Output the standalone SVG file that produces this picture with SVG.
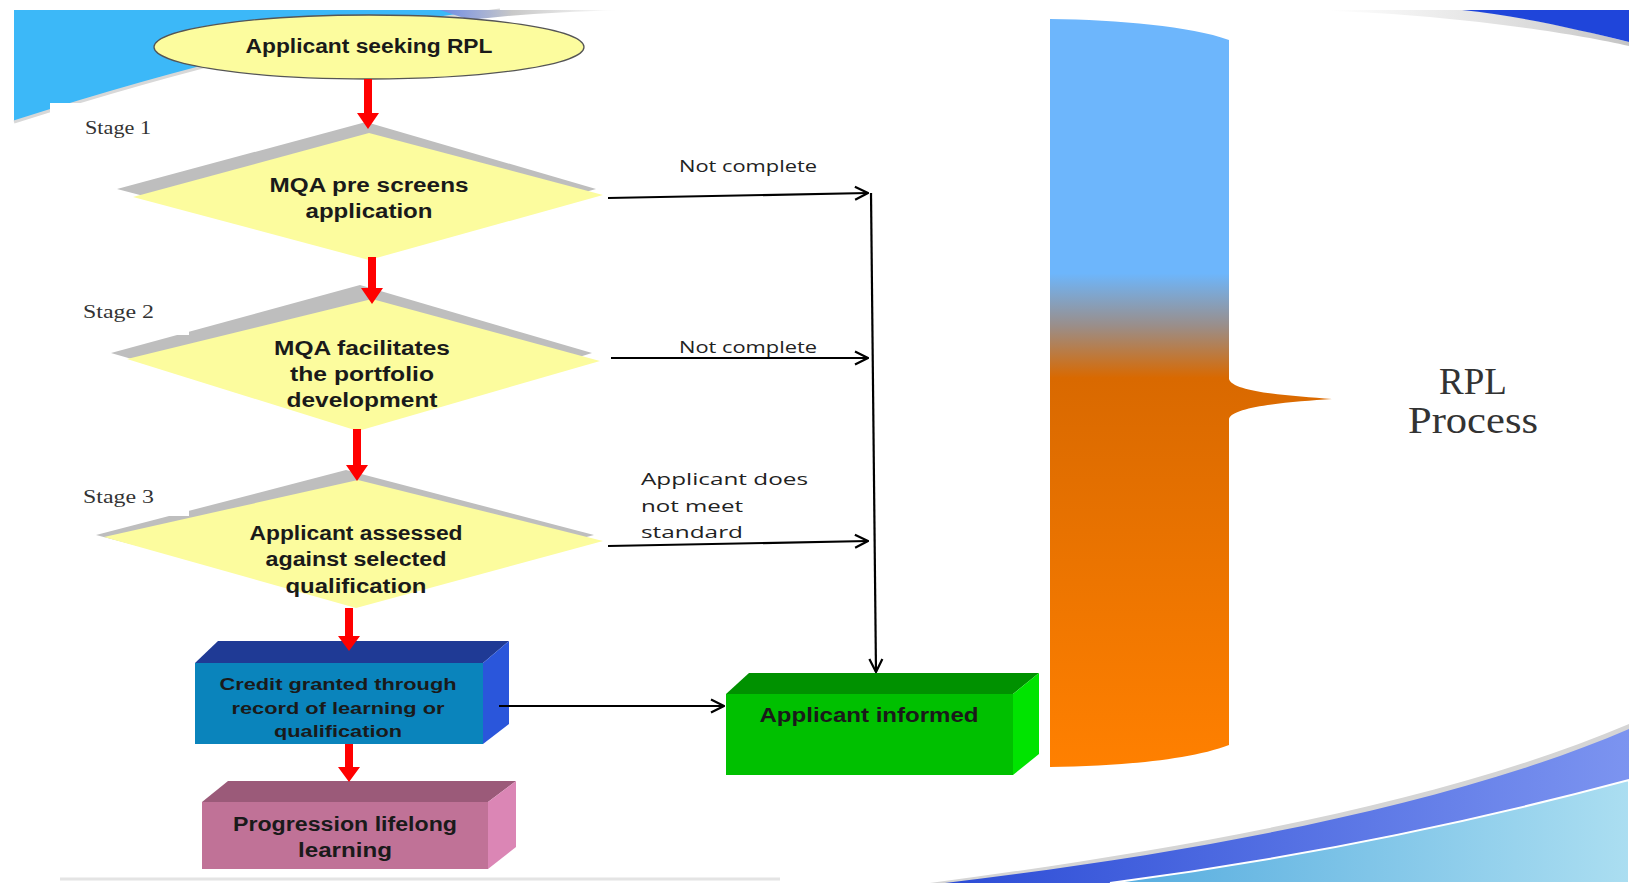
<svg xmlns="http://www.w3.org/2000/svg" width="1629" height="883" viewBox="0 0 1629 883">
<style>
.nt{font-family:"Liberation Sans",Arial,sans-serif;font-weight:bold;fill:#1a1a1a;text-anchor:middle}
.lb{font-family:"Open Sans","Liberation Sans",sans-serif;fill:#222;font-size:17px}
.st{font-family:"Liberation Serif","Times New Roman",serif;fill:#333;font-size:18px}
.rp{font-family:"Liberation Serif","Times New Roman",serif;fill:#333;font-size:37px;text-anchor:middle}
.red{fill:#FF0000}
.ln{fill:none;stroke:#000;stroke-width:2.2;marker-end:url(#arr)}
.dia{fill:#FCFC9E}
.sh{fill:#BEBEBE}
</style>
<defs>
<marker id="arr" viewBox="0 0 16 16" refX="15" refY="8" markerWidth="16" markerHeight="16" markerUnits="userSpaceOnUse" orient="auto">
<path d="M2,1.5 L15,8 L2,14.5" fill="none" stroke="#000" stroke-width="2.2"/>
</marker>
<linearGradient id="bar" gradientUnits="userSpaceOnUse" x1="0" y1="19" x2="0" y2="767">
<stop offset="0" stop-color="#6DB6FC"/>
<stop offset="0.34" stop-color="#6DB6FC"/>
<stop offset="0.41" stop-color="#9A8E8A"/>
<stop offset="0.48" stop-color="#D96900"/>
<stop offset="1" stop-color="#FF8000"/>
</linearGradient>
<linearGradient id="band" x1="0" y1="0" x2="1" y2="0">
<stop offset="0" stop-color="#2C4CD6"/>
<stop offset="1" stop-color="#7C94F0"/>
</linearGradient>
<linearGradient id="light" x1="0" y1="0" x2="1" y2="0">
<stop offset="0" stop-color="#55ACDF"/>
<stop offset="1" stop-color="#ABDEF1"/>
</linearGradient>
<linearGradient id="swoosh" x1="0" y1="0" x2="1" y2="0">
<stop offset="0" stop-color="#FFFFFF"/>
<stop offset="0.7" stop-color="#DADADA"/>
<stop offset="1" stop-color="#C4C4C4"/>
</linearGradient>
<linearGradient id="swoosh2" x1="0" y1="0" x2="1" y2="0">
<stop offset="0" stop-color="#6E8BE6"/>
<stop offset="0.4" stop-color="#C8C8C8"/>
<stop offset="1" stop-color="#FFFFFF"/>
</linearGradient>
</defs>

<g id="background">
<rect x="0" y="0" width="1629" height="883" fill="#FFFFFF"/>
<path d="M14,10 H500 C380,24 240,50 14,122 Z" fill="#3CB8F8"/>
<path d="M14,122 C240,50 380,24 500,10" fill="none" stroke="#D8D8D8" stroke-width="3"/>
<path d="M440,10 H620 C560,12 520,14 470,20 Z" fill="url(#swoosh2)"/>
<rect x="50" y="103" width="130" height="40" fill="#FFFFFF"/>
<path d="M1330,10 H1470 C1530,18 1590,32 1629,42 V46 C1570,32 1440,14 1330,11 Z" fill="url(#swoosh)"/>
<path d="M1462,10 H1629 V42 C1580,30 1520,16 1462,10 Z" fill="#1F45DA"/>
<path d="M930,883 C1180,850 1440,804 1629,724 V732 C1440,810 1180,858 950,883 Z" fill="#D5D5D5"/>
<path d="M945,883 C1190,854 1450,806 1629,729 V883 Z" fill="url(#band)"/>
<path d="M1110,883 C1300,858 1480,820 1629,780 V883 Z" fill="url(#light)" stroke="#FFFFFF" stroke-width="2"/>
<path d="M60,879 H780" stroke="#E4E4E4" stroke-width="3"/>
</g>

<g id="rpl-bar">
<path d="M1050,19 C1120,20 1190,26 1229,40 V379 C1232,392 1290,396 1332,399 C1290,402 1232,406 1229,419 V745 C1190,760 1120,766 1050,767 Z" fill="url(#bar)"/>
</g>
<g id="rpl-label">
<text class="rp" x="1473" y="394">RPL</text>
<text class="rp" x="1473" y="433" textLength="130" lengthAdjust="spacingAndGlyphs">Process</text>
</g>

<g id="start">
<ellipse cx="369" cy="47" rx="215" ry="32" fill="#FCFC9E" stroke="#555" stroke-width="1.3"/>
<text class="nt" x="369" y="53" font-size="20" textLength="247" lengthAdjust="spacingAndGlyphs">Applicant seeking RPL</text>
</g>

<g id="stage1">
<text class="st" x="85" y="134" textLength="66" lengthAdjust="spacingAndGlyphs">Stage 1</text>
<polygon class="sh" points="117,189 366,122 596,189 366,254"/>
<polygon class="dia" points="369,133 603,195 369,260 133,197"/>
<text class="nt" x="369" y="192" font-size="20" textLength="199" lengthAdjust="spacingAndGlyphs">MQA  pre screens</text>
<text class="nt" x="369" y="218" font-size="20" textLength="127" lengthAdjust="spacingAndGlyphs">application</text>
</g>

<g id="stage2">
<polygon class="sh" points="111,353 360,285 592,353 360,425"/>
<rect x="70" y="290" width="119" height="45" fill="#FFFFFF"/>
<text class="st" x="83" y="318" textLength="71" lengthAdjust="spacingAndGlyphs">Stage 2</text>
<polygon class="dia" points="372,299 600,361 358,431 127,359"/>
<text class="nt" x="362" y="355" font-size="20" textLength="176" lengthAdjust="spacingAndGlyphs">MQA facilitates</text>
<text class="nt" x="362" y="381" font-size="20" textLength="144" lengthAdjust="spacingAndGlyphs">the portfolio</text>
<text class="nt" x="362" y="407" font-size="20" textLength="151" lengthAdjust="spacingAndGlyphs">development</text>
</g>

<g id="stage3">
<polygon class="sh" points="96,535 346,470 594,535 346,600"/>
<rect x="70" y="474" width="119" height="42" fill="#FFFFFF"/>
<text class="st" x="83" y="503" textLength="71" lengthAdjust="spacingAndGlyphs">Stage 3</text>
<polygon class="dia" points="358,480 603,541 356,608 104,537"/>
<text class="nt" x="356" y="540" font-size="20" textLength="213" lengthAdjust="spacingAndGlyphs">Applicant assessed</text>
<text class="nt" x="356" y="566" font-size="20" textLength="181" lengthAdjust="spacingAndGlyphs">against selected</text>
<text class="nt" x="356" y="593" font-size="20" textLength="141" lengthAdjust="spacingAndGlyphs">qualification</text>
</g>

<g id="credit">
<polygon points="195,663 218,641 509,641 483,663" fill="#1F3A95"/>
<polygon points="483,663 509,641 509,724 483,744" fill="#2A56DB"/>
<rect x="195" y="663" width="288" height="81" fill="#0A84BC"/>
<text class="nt" x="338" y="690" font-size="17" textLength="237" lengthAdjust="spacingAndGlyphs">Credit granted through</text>
<text class="nt" x="338" y="714" font-size="17" textLength="213" lengthAdjust="spacingAndGlyphs">record of learning  or</text>
<text class="nt" x="338" y="737" font-size="17" textLength="128" lengthAdjust="spacingAndGlyphs">qualification</text>
</g>

<g id="progression">
<polygon points="202,802 228,781 516,781 488,802" fill="#9B5A79"/>
<polygon points="488,802 516,781 516,847 488,869" fill="#DB86B5"/>
<rect x="202" y="802" width="286" height="67" fill="#C07297"/>
<text class="nt" x="345" y="831" font-size="20" textLength="224" lengthAdjust="spacingAndGlyphs">Progression lifelong</text>
<text class="nt" x="345" y="857" font-size="20" textLength="94" lengthAdjust="spacingAndGlyphs">learning</text>
</g>

<g id="informed">
<polygon points="726,694 749,673 1039,673 1013,694" fill="#009100"/>
<polygon points="1013,694 1039,673 1039,754 1013,775" fill="#00E400"/>
<rect x="726" y="694" width="287" height="81" fill="#00C000"/>
<text class="nt" x="869" y="722" font-size="20" textLength="219" lengthAdjust="spacingAndGlyphs">Applicant informed</text>
</g>

<g id="connectors">
<path class="red" d="M364,79 H372 V113 H379 L368,129 L357,113 H364 Z"/>
<path class="red" d="M368,257 H376 V288 H383 L372,304 L361,288 H368 Z"/>
<path class="red" d="M353,429 H361 V465 H368 L357,481 L346,465 H353 Z"/>
<path class="red" d="M345,608 H353 V636 H360 L349,651 L338,636 H345 Z"/>
<path class="red" d="M345,744 H353 V767 H360 L349,782 L338,767 H345 Z"/>
<path class="ln" d="M608,198 L868,193"/>
<path class="ln" d="M611,358 L868,358"/>
<path class="ln" d="M608,546 L868,541"/>
<path class="ln" d="M871,193 L876,672"/>
<path class="ln" d="M499,706 L724,706"/>
<text class="lb" x="748" y="172" text-anchor="middle" textLength="138" lengthAdjust="spacingAndGlyphs">Not complete</text>
<text class="lb" x="748" y="353" text-anchor="middle" textLength="138" lengthAdjust="spacingAndGlyphs">Not complete</text>
<text class="lb" x="641" y="485" textLength="167" lengthAdjust="spacingAndGlyphs">Applicant does</text>
<text class="lb" x="641" y="512" textLength="102" lengthAdjust="spacingAndGlyphs">not meet</text>
<text class="lb" x="641" y="538" textLength="102" lengthAdjust="spacingAndGlyphs">standard</text>
</g>
</svg>
